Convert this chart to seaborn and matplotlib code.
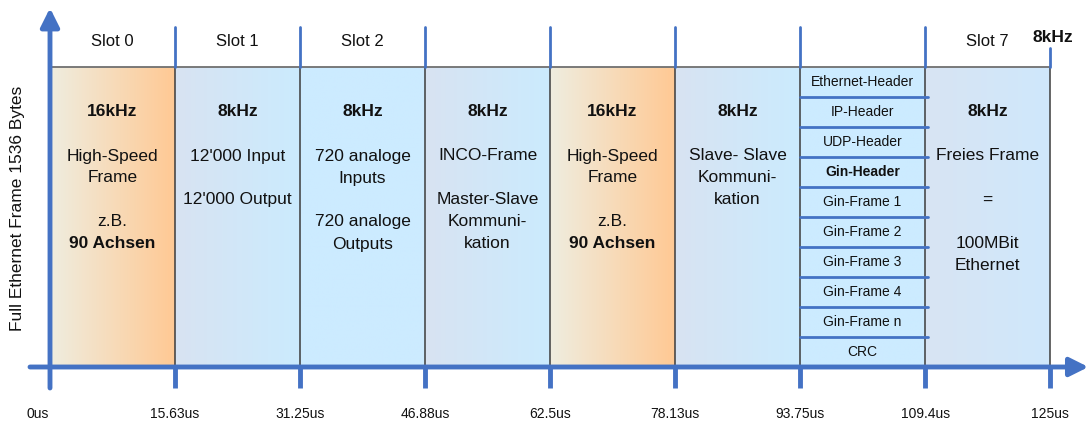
import numpy as np
import seaborn as sns
import matplotlib.pyplot as plt
from matplotlib.colors import to_rgb

# --- data -------------------------------------------------------------
frame_bytes = 1536
slot_edges = [0, 15.63, 31.25, 46.88, 62.5, 78.13, 93.75, 109.4, 125]
tick_labels = ["0us", "15.63us", "31.25us", "46.88us", "62.5us",
               "78.13us", "93.75us", "109.4us", "125us"]
slot_titles = ["Slot 0", "Slot 1", "Slot 2", "", "", "", "", "Slot 7"]
slot_freq = ["16kHz", "8kHz", "8kHz", "8kHz", "16kHz", "8kHz", "", "8kHz"]
slot_lines = [
    ["", "High-Speed", "Frame", "", "z.B.", "90 Achsen"],
    ["", "12'000 Input", "", "12'000 Output"],
    ["", "720 analoge", "Inputs", "", "720 analoge", "Outputs"],
    ["", "INCO-Frame", "", "Master-Slave", "Kommuni-", "kation"],
    ["", "High-Speed", "Frame", "", "z.B.", "90 Achsen"],
    ["", "Slave- Slave", "Kommuni-", "kation"],
    [],
    ["", "Freies Frame", "", "=", "", "100MBit", "Ethernet"],
]
slot_kind = ["hs", "std", "flat", "std", "hs", "std", "flat", "free"]
gin_cells = ["Ethernet-Header", "IP-Header", "UDP-Header", "Gin-Header",
             "Gin-Frame 1", "Gin-Frame 2", "Gin-Frame 3", "Gin-Frame 4",
             "Gin-Frame n", "CRC"]
gin_slot = 6
cycle_label = "8kHz"
y_label = "Full Ethernet Frame 1536 Bytes"
bold_texts = {"90 Achsen", "Gin-Header"}

# --- style ------------------------------------------------------------
sns.set_theme(style="white")
plt.rcParams['font.family'] = ['Liberation Sans', 'DejaVu Sans']

BLUE = "#4472C4"
fills = {
    "hs": ("#EFEDDF", "#FFC994"),
    "std": ("#D8E3F2", "#CBEBFE"),
    "flat": ("#CCEBFF", "#CCEBFF"),
    "free": ("#D8E4F3", "#CFE8FC"),
}

px_x = 8.0                 # pixels per us
px_y = frame_bytes / 300   # bytes per pixel


def ypx(p):
    return (367 - p) * px_y


fig = plt.figure(figsize=(10.88, 4.26), dpi=100)
ax = fig.add_axes([0, 0, 1, 1])
ax.set_axis_off()

# slot boxes
for i in range(8):
    x0, x1 = slot_edges[i], slot_edges[i + 1]
    c0, c1 = (np.array(to_rgb(c)) for c in fills[slot_kind[i]])
    t = np.linspace(0, 1, 64)[None, :, None]
    grad = c0 + (c1 - c0) * t
    ax.imshow(grad, extent=[x0, x1, 0, frame_bytes], aspect='auto',
              interpolation='bilinear', zorder=1)

for x in slot_edges[1:]:
    ax.plot([x, x], [0, frame_bytes], color="#3c3c3c", lw=1.1, zorder=3)
ax.plot([slot_edges[0], slot_edges[-1]], [frame_bytes, frame_bytes],
        color="#707070", lw=1.3, zorder=3)

# blue separators above boxes
for x in slot_edges[1:-1]:
    ax.plot([x, x], [frame_bytes, ypx(27)], color=BLUE, lw=2, zorder=3)
ax.plot([slot_edges[-1]] * 2, [frame_bytes, ypx(48)], color=BLUE, lw=2, zorder=3)
ax.text(slot_edges[-1] + 0.3, ypx(38), cycle_label, ha='center', va='center',
        fontsize=12.5, fontweight='bold', color="#111111")

# slot titles and contents
line_step = 22 * px_y
for i in range(8):
    xc = (slot_edges[i] + slot_edges[i + 1]) / 2
    if slot_titles[i]:
        ax.text(xc, ypx(42), slot_titles[i], ha='center', va='center',
                fontsize=12, color="#111111")
    if slot_freq[i]:
        ax.text(xc, ypx(112), slot_freq[i], ha='center', va='center',
                fontsize=12.5, fontweight='bold', color="#111111")
    for k, line in enumerate(slot_lines[i]):
        if not line:
            continue
        ax.text(xc, ypx(112) - (k + 1) * line_step, line, ha='center',
                va='center', fontsize=12.5, color="#111111",
                fontweight='bold' if line in bold_texts else 'normal')

# Gin frame cells
g0, g1 = slot_edges[gin_slot], slot_edges[gin_slot + 1]
cell_h = frame_bytes / len(gin_cells)
for k, name in enumerate(gin_cells):
    top = frame_bytes - k * cell_h
    ax.text((g0 + g1) / 2, top - cell_h / 2, name, ha='center', va='center',
            fontsize=10, color="#111111",
            fontweight='bold' if name in bold_texts else 'normal')
    if k > 0:
        ax.plot([g0, g1 + 0.4], [top, top], color=BLUE, lw=2, zorder=3)

# axes with arrows
ax.annotate('', xy=(0, ypx(8)), xytext=(0, ypx(388)),
            arrowprops=dict(arrowstyle='-|>', color=BLUE, lw=3.5,
                            mutation_scale=28, shrinkA=0, shrinkB=0), zorder=5)
ax.annotate('', xy=(129.8, 0), xytext=(-2.5, 0),
            arrowprops=dict(arrowstyle='-|>', color=BLUE, lw=3.5,
                            mutation_scale=28, shrinkA=0, shrinkB=0), zorder=5)
for x in slot_edges[1:]:
    ax.plot([x, x], [0, ypx(388)], color=BLUE, lw=3.5, zorder=5,
            solid_capstyle='butt')

for k, (x, lab) in enumerate(zip(slot_edges, tick_labels)):
    xl = x - 1.6 if k == 0 else x
    ax.text(xl, ypx(414), lab, ha='center', va='center', fontsize=10,
            color="#111111")

ax.text(-4.0, ypx(208), y_label, rotation=90, ha='center', va='center',
        fontsize=12.5, color="#111111")

ax.set_xlim(-50 / px_x, 1038 / px_x)
ax.set_ylim(ypx(426), ypx(0))

fig.savefig("out.png", dpi=100)
